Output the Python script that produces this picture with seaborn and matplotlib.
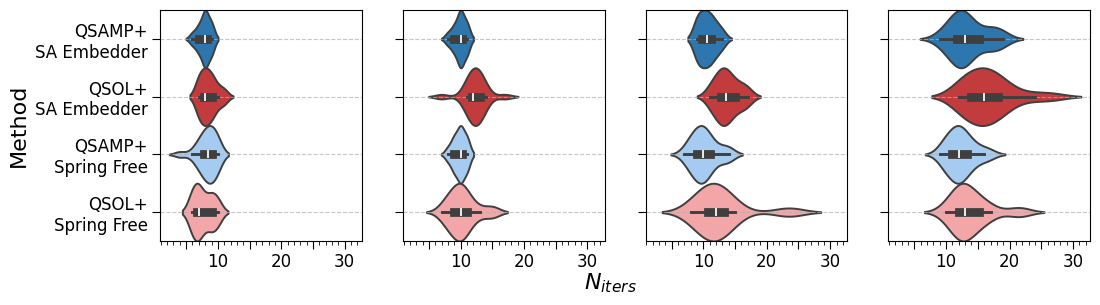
import numpy as np
import pandas as pd
import seaborn as sns
import matplotlib.pyplot as plt
from matplotlib.ticker import MultipleLocator, FuncFormatter

methods = [
    "QSAMP+\nSA Embedder",
    "QSOL+\nSA Embedder",
    "QSAMP+\nSpring Free",
    "QSOL+\nSpring Free",
]
colors = ["#2d76ae", "#c23b3d", "#a5cbf1", "#f2a6a7"]

# iterations per run (20 runs per method)
p1_qsamp_sa = [6, 6, 7, 7, 7, 7, 8, 8, 8, 8, 8, 8, 8, 8, 8, 9, 9, 9, 9, 9]
p1_qsol_sa = [7, 7, 7, 7, 7, 8, 8, 8, 8, 8, 8, 9, 9, 9, 9, 9, 10, 10, 11, 11]
p1_qsamp_sf = [4, 6, 7, 7, 7, 8, 8, 8, 8, 8, 9, 9, 9, 9, 9, 9, 10, 10, 10, 10]
p1_qsol_sf = [6, 6, 6, 6, 6, 7, 7, 7, 7, 7, 7, 8, 8, 9, 9, 9, 9, 10, 10, 10]

p2_qsamp_sa = [8, 8, 9, 9, 9, 9, 10, 10, 10, 10, 10, 10, 10, 10, 10, 11, 11, 11, 11, 11]
p2_qsol_sa = [7, 11, 11, 11, 11, 12, 12, 12, 12, 12, 12, 13, 13, 13, 13, 13, 13, 14, 14, 17]
p2_qsamp_sf = [8, 8, 9, 9, 9, 9, 9, 10, 10, 10, 10, 10, 10, 10, 10, 11, 11, 11, 11, 11]
p2_qsol_sf = [7, 8, 8, 8, 9, 9, 9, 10, 10, 10, 10, 10, 10, 11, 11, 11, 12, 13, 15, 15]

p3_qsamp_sa = [9, 9, 9, 9, 9, 10, 10, 10, 10, 10, 11, 11, 11, 11, 11, 12, 12, 12, 13, 13]
p3_qsol_sa = [11, 11, 12, 12, 12, 13, 13, 13, 13, 13, 14, 14, 14, 14, 15, 15, 16, 16, 17, 17]
p3_qsamp_sf = [7, 8, 8, 8, 9, 9, 9, 9, 10, 10, 10, 10, 10, 11, 11, 11, 12, 13, 14, 14]
p3_qsol_sf = [8, 9, 9, 10, 10, 11, 11, 11, 11, 12, 12, 12, 13, 13, 13, 14, 14, 15, 23, 24]

p4_qsamp_sa = [9, 10, 11, 11, 11, 12, 12, 12, 13, 13, 13, 13, 13, 14, 15, 16, 17, 18, 18, 19]
p4_qsol_sa = [12, 12, 13, 13, 14, 14, 15, 15, 16, 16, 16, 17, 17, 18, 18, 19, 19, 21, 24, 27]
p4_qsamp_sf = [9, 10, 10, 10, 11, 11, 11, 12, 12, 12, 12, 12, 13, 13, 13, 14, 14, 15, 16, 17]
p4_qsol_sf = [10, 11, 11, 12, 12, 12, 12, 13, 13, 13, 13, 13, 14, 14, 15, 16, 16, 17, 21, 22]

panels = [
    [p1_qsamp_sa, p1_qsol_sa, p1_qsamp_sf, p1_qsol_sf],
    [p2_qsamp_sa, p2_qsol_sa, p2_qsamp_sf, p2_qsol_sf],
    [p3_qsamp_sa, p3_qsol_sa, p3_qsamp_sf, p3_qsol_sf],
    [p4_qsamp_sa, p4_qsol_sa, p4_qsamp_sf, p4_qsol_sf],
]

rows = []
for i, panel in enumerate(panels):
    for method, vals in zip(methods, panel):
        for v in vals:
            rows.append((i, method, v))
df = pd.DataFrame(rows, columns=["panel", "Method", "N_iters"])

fig, axes = plt.subplots(ncols=4, figsize=(11, 3.05), sharex=True)
fig.subplots_adjust(left=0.1455, right=0.991, top=0.967, bottom=0.21, wspace=0.203)

for i, ax in enumerate(axes):
    sns.violinplot(
        data=df[df["panel"] == i],
        x="N_iters",
        y="Method",
        hue="Method",
        order=methods,
        hue_order=methods,
        palette=colors,
        saturation=1,
        density_norm="width",
        width=1.0,
        linewidth=1.4,
        linecolor="#3f3f3f",
        legend=False,
        ax=ax,
    )
    ax.grid(axis="y", linestyle="--", alpha=0.7)
    ax.set_xlabel("")
    ax.xaxis.set_major_locator(MultipleLocator(5))
    ax.xaxis.set_minor_locator(MultipleLocator(1))
    ax.xaxis.set_major_formatter(
        FuncFormatter(lambda v, p: f"{v:.0f}" if round(v) % 10 == 0 else "")
    )
    ax.tick_params(axis="both", which="major", labelsize=12, length=5.5)
    ax.tick_params(axis="x", which="minor", length=3)
    if i == 0:
        ax.set_ylabel("Method", fontsize=16)
    else:
        ax.set_ylabel("")
        ax.tick_params(axis="y", labelleft=False)

fig.text(0.555, 0.072, r"$N_{iters}$", fontsize=16, ha="center", va="center")

fig.savefig("out.png", dpi=100)
